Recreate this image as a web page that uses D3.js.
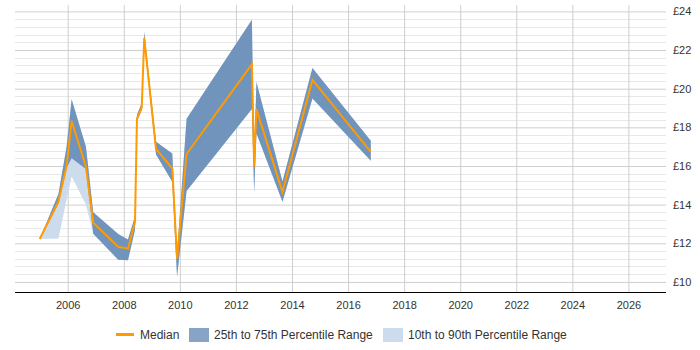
<!DOCTYPE html>
<html>
<head>
<meta charset="utf-8">
<script src="https://cdn.jsdelivr.net/npm/d3@7"></script>
<style>
  html, body { margin: 0; padding: 0; background: #fff; }
  svg { display: block; font-family: "Liberation Sans", Arial, sans-serif; }
</style>
</head>
<body>
<svg id="chart" width="700" height="350"></svg>
<script>
// ---- data ----
const years = [2005.0, 2005.67, 2005.96, 2006.14, 2006.65, 2006.91, 2007.8, 2008.15, 2008.4, 2008.47, 2008.64, 2008.73, 2009.15, 2009.73, 2009.9, 2010.24, 2012.57, 2012.65, 2012.73, 2013.66, 2014.73, 2016.81];
const median = [12.22, 14.15, 16.0, 18.33, 15.96, 13.06, 11.82, 11.72, 13.11, 18.45, 19.03, 22.62, 16.88, 15.88, 11.2, 16.62, 21.26, 15.96, 18.94, 14.66, 20.45, 16.73];
const p75    = [12.22, 14.55, 17.0, 19.45, 16.99, 13.6, 12.48, 12.2, 13.4, 18.65, 19.25, 22.95, 17.25, 16.65, 11.45, 18.45, 23.57, 16.2, 20.35, 15.2, 21.07, 17.3];
const p25    = [12.22, 14.05, 15.9, 16.4, 15.85, 12.5, 11.15, 11.12, 12.7, 18.3, 18.9, 22.4, 16.6, 15.18, 10.27, 14.7, 18.95, 14.6, 17.7, 14.15, 19.49, 16.27];
const p90    = [12.22, 14.55, 17.0, 19.45, 16.99, 13.6, 12.48, 12.2, 13.4, 18.65, 19.25, 22.95, 17.25, 16.65, 11.45, 18.45, 23.57, 16.2, 20.35, 15.2, 21.07, 17.3];
const p10    = [12.22, 12.25, 14.25, 15.45, 14.0, 12.5, 11.15, 11.12, 12.7, 18.3, 18.9, 22.4, 16.6, 15.18, 10.27, 14.7, 18.95, 14.6, 17.7, 14.15, 19.49, 16.27];
const xTicks = [2006, 2008, 2010, 2012, 2014, 2016, 2018, 2020, 2022, 2024, 2026];
const yTicks = [10, 12, 14, 16, 18, 20, 22, 24];
const legendLabels = ["Median", "25th to 75th Percentile Range", "10th to 90th Percentile Range"];

// ---- layout ----
const svg = d3.select("#chart");
const pLeft = 15, pRight = 666, pTop = 5, pBottom = 292;
const x = d3.scaleLinear().domain([2004.12, 2027.34]).range([pLeft, pRight]);
const y = d3.scaleLinear().domain([9.48, 24.33]).range([pBottom, pTop]);

const colMedian = "#ff9a00", colDark = "#7094bc", colDarkLeg = "#87a4c5", colLight = "#cddced";

// minor gridlines
const minor = d3.range(10, 24.01, 0.4).filter(v => Math.abs(v - Math.round(v / 2) * 2) > 0.01);
svg.append("g").selectAll("line").data(minor).join("line")
  .attr("x1", pLeft).attr("x2", pRight)
  .attr("y1", d => Math.round(y(d)) + 0.5).attr("y2", d => Math.round(y(d)) + 0.5)
  .attr("stroke", "#e8e8e8").attr("stroke-width", 1);

// major gridlines + right labels
const yAxis = d3.axisRight(y).tickValues(yTicks).tickSize(pRight - pLeft)
  .tickFormat(d => "£" + d);
const gy = svg.append("g").attr("transform", `translate(${pLeft},0)`).call(yAxis);
gy.select(".domain").remove();
gy.selectAll(".tick line").attr("stroke", "#cfcfcf");
gy.selectAll(".tick text").attr("x", pRight - pLeft + 7).attr("fill", "#333").attr("font-size", 11);

// vertical gridlines + bottom labels
const xAxis = d3.axisBottom(x).tickValues(xTicks).tickSize(-(pBottom - pTop)).tickFormat(d3.format("d"));
const gx = svg.append("g").attr("transform", `translate(0,${pBottom})`).call(xAxis);
gx.select(".domain").remove();
gx.selectAll(".tick line").attr("stroke", "#cfcfcf");
gx.selectAll(".tick text").attr("y", 9).attr("fill", "#333").attr("font-size", 11);

const rows = years.map((t, i) => ({ t, m: median[i], lo: p25[i], hi: p75[i], lo2: p10[i], hi2: p90[i] }));

svg.append("path").datum(rows)
  .attr("fill", colLight)
  .attr("d", d3.area().x(d => x(d.t)).y0(d => y(d.lo2)).y1(d => y(d.hi2)));
svg.append("path").datum(rows)
  .attr("fill", colDark)
  .attr("d", d3.area().x(d => x(d.t)).y0(d => y(d.lo)).y1(d => y(d.hi)));
svg.append("path").datum(rows)
  .attr("fill", "none").attr("stroke", colMedian).attr("stroke-width", 2)
  .attr("stroke-linejoin", "miter")
  .attr("d", d3.line().x(d => x(d.t)).y(d => y(d.m)));

// x axis line
svg.append("line").attr("x1", pLeft).attr("x2", pRight)
  .attr("y1", pBottom + 0.5).attr("y2", pBottom + 0.5)
  .attr("stroke", "#000").attr("stroke-width", 1.2);

// legend
const lg = svg.append("g").attr("font-size", 12).attr("fill", "#333");
lg.append("line").attr("x1", 116).attr("x2", 134).attr("y1", 334.5).attr("y2", 334.5)
  .attr("stroke", colMedian).attr("stroke-width", 3);
lg.append("text").attr("x", 140).attr("y", 338.5).text(legendLabels[0]);
lg.append("rect").attr("x", 189).attr("y", 328).attr("width", 20).attr("height", 14).attr("fill", colDarkLeg);
lg.append("text").attr("x", 214).attr("y", 338.5).text(legendLabels[1]);
lg.append("rect").attr("x", 383).attr("y", 328).attr("width", 20).attr("height", 14).attr("fill", colLight);
lg.append("text").attr("x", 408).attr("y", 338.5).text(legendLabels[2]);
</script>
</body>
</html>
